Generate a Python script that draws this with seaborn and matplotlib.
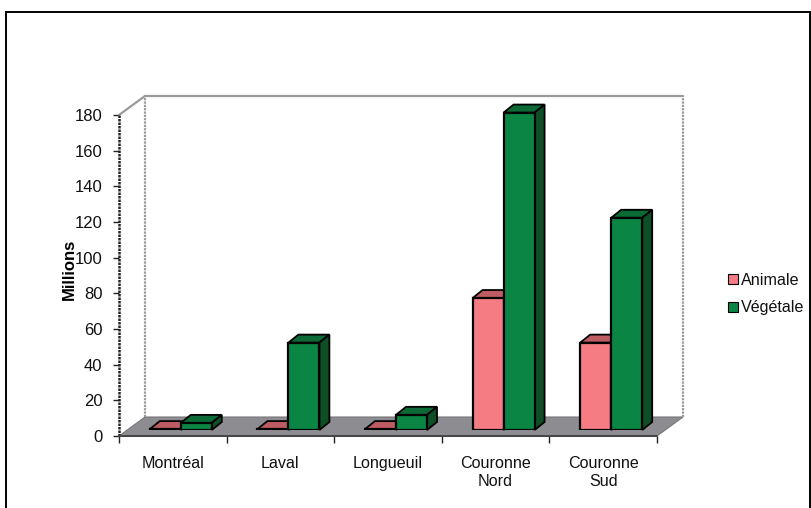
import matplotlib
matplotlib.use('Agg')
import pandas as pd
import matplotlib.pyplot as plt
import seaborn as sns
from matplotlib.patches import Polygon, Rectangle
from matplotlib.lines import Line2D

categories = ['Montréal', 'Laval', 'Longueuil', 'Couronne\nNord', 'Couronne\nSud']
animale = [0.5, 0.5, 0.5, 74, 49]
vegetale = [4, 49, 8.5, 178, 119]
y_ticks = [0, 20, 40, 60, 80, 100, 120, 140, 160, 180]

W, H = 812, 508
# front plane of the fake 3D box, in pixels
LEFT, RIGHT, TOP, BOTTOM = 119, 657, 115, 436
WALL_DX, WALL_DY = 26, 19   # shift of the back wall
BAR_DX, BAR_DY = 8, 6       # shift of the bars from the front plane
DEPTH_DX, DEPTH_DY = 10, 8  # bar depth

sns.set_theme(style='white')
plt.rcParams['font.family'] = ['Liberation Sans', 'DejaVu Sans']

df = pd.DataFrame({
    'zone': categories * 2,
    'type': ['Animale'] * 5 + ['Végétale'] * 5,
    'valeur': animale + vegetale,
})

fig = plt.figure(figsize=(W / 100, H / 100), dpi=100)


def add_axes_px(x0, x1, y_top, y_bottom):
    ax = fig.add_axes([x0 / W, 1 - y_bottom / H, (x1 - x0) / W, (y_bottom - y_top) / H])
    ax.patch.set_alpha(0)
    return ax


# chart frame
fig.add_artist(Rectangle((6 / W, -0.02), 804 / W, 1.02 - 12 / H, transform=fig.transFigure,
                         fill=False, edgecolor='black', linewidth=1.4))

# front axes: ticks, labels, floor and walls
front = add_axes_px(LEFT, RIGHT, TOP, BOTTOM)
front.set_xlim(0, RIGHT - LEFT)
front.set_ylim(0, BOTTOM - TOP)
for s in front.spines.values():
    s.set_visible(False)
pw, ph = RIGHT - LEFT, BOTTOM - TOP
front.add_patch(Polygon([(0, 0), (pw, 0), (pw + WALL_DX, WALL_DY), (WALL_DX, WALL_DY)],
                        closed=True, facecolor='#8c8c91', edgecolor='#77777a', linewidth=0.8,
                        clip_on=False, zorder=1))
wall = dict(color='#9a9a9a', linewidth=1.6, clip_on=False, zorder=1)
front.plot([WALL_DX, WALL_DX], [WALL_DY, ph + WALL_DY], linestyle=(0, (1, 0.5)), **wall)
front.plot([pw + WALL_DX, pw + WALL_DX], [WALL_DY, ph + WALL_DY], linestyle=(0, (1, 0.5)), **wall)
front.plot([WALL_DX, pw + WALL_DX], [ph + WALL_DY, ph + WALL_DY], **wall)
front.plot([0, WALL_DX], [ph, ph + WALL_DY], **wall)
front.plot([0, 0], [0, ph], color='#222222', linewidth=1.8, linestyle=(0, (1, 0.4)), clip_on=False, zorder=2)
front.plot([0, pw], [0, 0], color='#444444', linewidth=1.4, clip_on=False, zorder=2)

px_per_unit = ph / 180
front.set_yticks([v * px_per_unit for v in y_ticks])
front.set_yticklabels(y_ticks, fontsize=12, color='#111111')
cat_w = pw / len(categories)
front.set_xticks([i * cat_w for i in range(len(categories) + 1)])
front.set_xticklabels([])
front.tick_params(axis='both', which='major', length=5, width=1, color='#222222',
                  bottom=True, left=True, pad=8)
front.tick_params(axis='y', length=4)
for i, name in enumerate(categories):
    front.text((i + 0.5) * cat_w, -20, name, ha='center', va='top', fontsize=11.6,
               linespacing=1.25, color='#111111')

fig.text(69 / W, 1 - 269 / H, 'Millions', rotation=90, ha='center', va='center',
         fontsize=12, fontweight='bold', color='black')

# bars, in an axes shifted to the middle of the floor
bars = add_axes_px(LEFT + BAR_DX, RIGHT + BAR_DX, TOP - BAR_DY, BOTTOM - BAR_DY)
sns.barplot(data=df, x='zone', y='valeur', hue='type', hue_order=['Animale', 'Végétale'],
            palette=['#f47c82', '#0b8543'], width=0.576, gap=0, saturation=1,
            edgecolor='black', linewidth=1.6, legend=False, zorder=4, ax=bars)
bars.set_xlim(-0.5, len(categories) - 0.5)
bars.set_ylim(0, 180)
bars.axis('off')

dx = DEPTH_DX / cat_w
dy = DEPTH_DY / px_per_unit
shades = [('#bd5c62', '#8f4048'), ('#0c6a36', '#0f4f25')]
for container, (top_c, side_c) in zip(bars.containers, shades):
    for bar in container:
        x0, w, h = bar.get_x(), bar.get_width(), bar.get_height()
        x1 = x0 + w
        bars.add_patch(Polygon([(x0, h), (x1, h), (x1 + dx, h + dy), (x0 + dx, h + dy)], closed=True,
                               facecolor=top_c, edgecolor='black', linewidth=1.3, zorder=3, clip_on=False))
        bars.add_patch(Polygon([(x1, 0), (x1 + dx, dy), (x1 + dx, h + dy), (x1, h)], closed=True,
                               facecolor=side_c, edgecolor='black', linewidth=1.3, zorder=3, clip_on=False))

# legend
handles = [Line2D([], [], marker='s', linestyle='none', markersize=7, markerfacecolor=c,
                  markeredgecolor='black', markeredgewidth=0.8) for c in ['#f47c82', '#0b8543']]
fig.legend(handles, ['Animale', 'Végétale'], loc='center left',
           bbox_to_anchor=(725 / W, 1 - 294 / H), frameon=False, fontsize=11.6,
           handlelength=1, handletextpad=0, labelspacing=0.8, borderpad=0, borderaxespad=0,
           labelcolor='#111111')

plt.savefig('out.png', dpi=100)
